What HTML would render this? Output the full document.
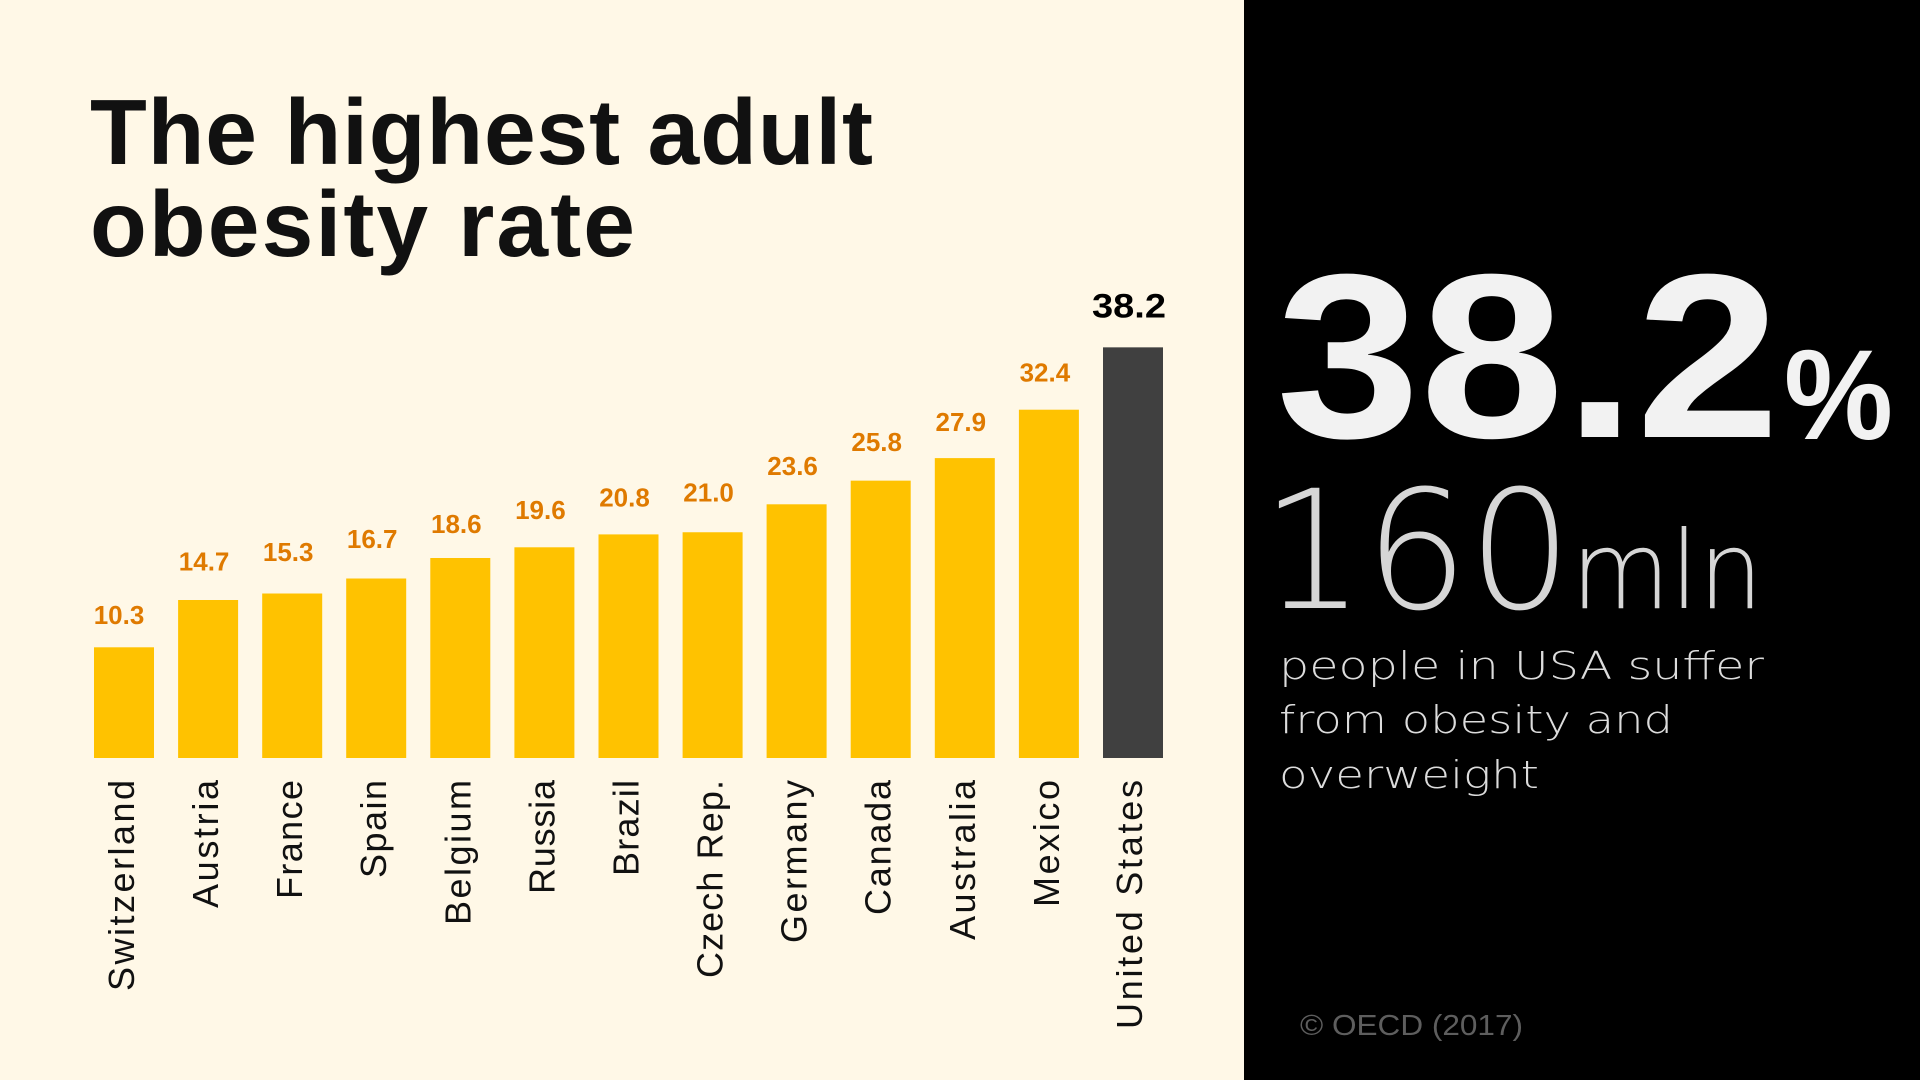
<!DOCTYPE html>
<html>
<head>
<meta charset="utf-8">
<style>
html,body{margin:0;padding:0;width:1920px;height:1080px;overflow:hidden;background:#FFF8E7;}
svg{display:block;}
</style>
</head>
<body>
<svg width="1920" height="1080" viewBox="0 0 1920 1080" xmlns="http://www.w3.org/2000/svg">
  <rect x="0" y="0" width="1244" height="1080" fill="#FFF8E7"/>
  <rect x="1244" y="0" width="676" height="1080" fill="#000000"/>

  <!-- Title -->
  <g font-family="'Liberation Sans', Arial, sans-serif" font-weight="700" font-size="93" fill="#111111">
    <text x="90" y="164" textLength="783" lengthAdjust="spacing">The highest adult</text>
    <text x="90" y="256" textLength="545" lengthAdjust="spacing">obesity rate</text>
  </g>

  <!-- Bars -->
  <g fill="#FFC200">
    <rect x="94" y="647.3" width="60" height="110.7"/>
    <rect x="178.1" y="600" width="60" height="158"/>
    <rect x="262.2" y="593.5" width="60" height="164.5"/>
    <rect x="346.2" y="578.5" width="60" height="179.5"/>
    <rect x="430.3" y="558" width="60" height="200"/>
    <rect x="514.4" y="547.3" width="60" height="210.7"/>
    <rect x="598.5" y="534.4" width="60" height="223.6"/>
    <rect x="682.6" y="532.25" width="60" height="225.75"/>
    <rect x="766.6" y="504.3" width="60" height="253.7"/>
    <rect x="850.7" y="480.65" width="60" height="277.35"/>
    <rect x="934.8" y="458.1" width="60" height="299.9"/>
    <rect x="1018.9" y="409.7" width="60" height="348.3"/>
  </g>
  <rect x="1103" y="347.35" width="60" height="410.65" fill="#404040"/>

  <!-- Value labels -->
  <g font-family="'Liberation Sans', Arial, sans-serif" font-weight="700" font-size="26" fill="#DF7A00" text-anchor="middle">
    <text x="119" y="624">10.3</text>
    <text x="204.1" y="570.7">14.7</text>
    <text x="288.2" y="561">15.3</text>
    <text x="372.2" y="548">16.7</text>
    <text x="456.3" y="533">18.6</text>
    <text x="540.4" y="519">19.6</text>
    <text x="624.5" y="506.7">20.8</text>
    <text x="708.6" y="501.7">21.0</text>
    <text x="792.6" y="475">23.6</text>
    <text x="876.7" y="451">25.8</text>
    <text x="960.8" y="431">27.9</text>
    <text x="1044.9" y="381.7">32.4</text>
  </g>
  <text x="1129" y="317.7" font-family="'Liberation Sans', Arial, sans-serif" font-weight="700" font-size="34" fill="#000000" text-anchor="middle" textLength="74" lengthAdjust="spacingAndGlyphs">38.2</text>

  <!-- Country labels -->
  <g font-family="'Liberation Sans', Arial, sans-serif" font-size="36" fill="#111111" text-anchor="end">
    <text transform="translate(134,780) rotate(-90)" textLength="211" lengthAdjust="spacing">Switzerland</text>
    <text transform="translate(218.1,780) rotate(-90)" textLength="128" lengthAdjust="spacing">Austria</text>
    <text transform="translate(302.2,780) rotate(-90)" textLength="119" lengthAdjust="spacing">France</text>
    <text transform="translate(386.2,780) rotate(-90)" textLength="98" lengthAdjust="spacing">Spain</text>
    <text transform="translate(470.3,780) rotate(-90)" textLength="145" lengthAdjust="spacing">Belgium</text>
    <text transform="translate(554.4,780) rotate(-90)" textLength="114" lengthAdjust="spacing">Russia</text>
    <text transform="translate(638.5,780) rotate(-90)" textLength="96" lengthAdjust="spacing">Brazil</text>
    <text transform="translate(722.6,780) rotate(-90)" textLength="198" lengthAdjust="spacing">Czech Rep.</text>
    <text transform="translate(806.6,780) rotate(-90)" textLength="163" lengthAdjust="spacing">Germany</text>
    <text transform="translate(890.7,780) rotate(-90)" textLength="135" lengthAdjust="spacing">Canada</text>
    <text transform="translate(974.8,780) rotate(-90)" textLength="160" lengthAdjust="spacing">Australia</text>
    <text transform="translate(1058.9,780) rotate(-90)" textLength="127" lengthAdjust="spacing">Mexico</text>
    <text transform="translate(1142,780) rotate(-90)" textLength="249" lengthAdjust="spacing">United States</text>
  </g>

  <!-- Right panel -->
  <text x="1276" y="437" font-family="'Liberation Sans', Arial, sans-serif" font-weight="700" font-size="234" fill="#F2F2F2" textLength="504" lengthAdjust="spacingAndGlyphs">38.2</text>
  <text x="1784" y="439" font-family="'Liberation Sans', Arial, sans-serif" font-weight="700" font-size="128" fill="#F2F2F2" textLength="109" lengthAdjust="spacingAndGlyphs">%</text>

  <g font-family="'DejaVu Sans', 'Liberation Sans', sans-serif" font-weight="200" fill="#D6D6D6">
    <text x="1261" y="608" font-size="165" textLength="311" lengthAdjust="spacingAndGlyphs">160</text>
    <text x="1571" y="608" font-size="108" textLength="192" lengthAdjust="spacingAndGlyphs">mln</text>
  </g>

  <g font-family="'DejaVu Sans', 'Liberation Sans', sans-serif" font-weight="200" font-size="38" fill="#DCDCDC">
    <text x="1279" y="679" textLength="485" lengthAdjust="spacingAndGlyphs">people in USA suffer</text>
    <text x="1279" y="733" textLength="394" lengthAdjust="spacingAndGlyphs">from obesity and</text>
    <text x="1279" y="788" textLength="260" lengthAdjust="spacingAndGlyphs">overweight</text>
  </g>

  <text x="1300" y="1035" font-family="'Liberation Sans', Arial, sans-serif" font-size="29" fill="#5E5E5E" textLength="223" lengthAdjust="spacingAndGlyphs">© OECD (2017)</text>
</svg>
</body>
</html>
